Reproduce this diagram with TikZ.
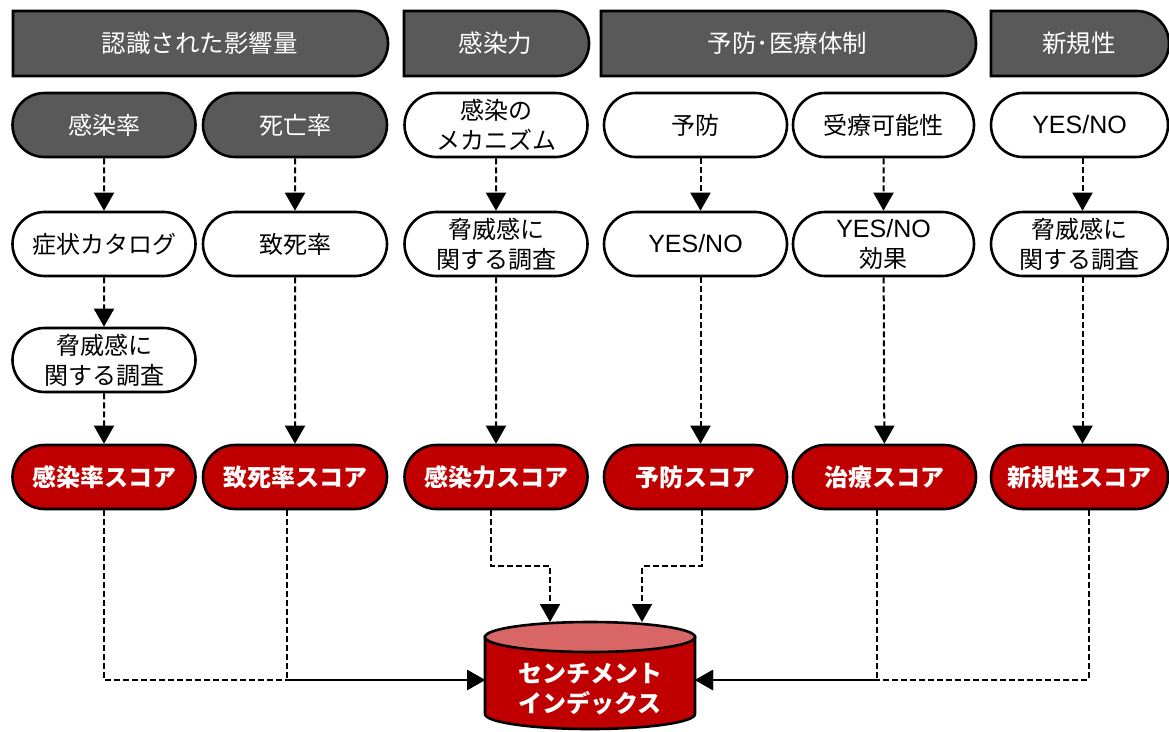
\documentclass[tikz,border=0pt]{standalone}
\usepackage{fontspec}
\setmainfont{Noto Sans CJK JP}
\newfontfamily\latinfont{Liberation Sans}
\usetikzlibrary{shapes.misc,arrows.meta}

\definecolor{hdr}{HTML}{595959}
\definecolor{scr}{HTML}{C00000}
\definecolor{cyltop}{HTML}{D96666}

\tikzset{
  base/.style={rounded rectangle, draw=black, line width=2.6pt, minimum height=64pt,
    inner sep=0pt, align=center, font=\fontsize{24}{30}\selectfont},
  hdrbox/.style={base, rounded rectangle left arc=none, fill=hdr, text=white,
    minimum height=65pt, font=\fontsize{24.5}{30}\selectfont},
  darkpill/.style={base, fill=hdr, text=white},
  whitepill/.style={base, fill=white},
  scorepill/.style={base, fill=scr, text=white, font=\fontsize{24}{30}\selectfont\bfseries},
  conn/.style={line width=2pt, dash pattern=on 6pt off 3pt, -{Triangle[length=18pt,width=20pt]}}
}
\newcommand{\yn}{{\latinfont\fontsize{25}{30}\selectfont YES/NO}}

\begin{document}
\begin{tikzpicture}[x=1pt,y=-1pt]
\useasboundingbox (0,0) rectangle (1169,731);

% headers
\node[hdrbox, minimum width=375pt] (h1) at (199.5,43.5) {認識された影響量};
\node[hdrbox, minimum width=185pt] (h2) at (495.5,43.5) {感染力};
\node[hdrbox, minimum width=375pt] (h3) at (787.5,43.5) {予防･医療体制};
\node[hdrbox, minimum width=178pt] (h4) at (1079,43.5) {新規性};

% row 2
\node[darkpill, minimum width=183pt] (a1) at (104,125) {感染率};
\node[darkpill, minimum width=184pt] (a2) at (295,125) {死亡率};
\node[whitepill, minimum width=183pt] (a3) at (496,125) {感染の\\メカニズム};
\node[whitepill, minimum width=183pt] (a4) at (695.5,125) {予防};
\node[whitepill, minimum width=181pt] (a5) at (883.5,125) {受療可能性};
\node[whitepill, minimum width=177pt] (a6) at (1079.5,125) {\yn};

% row 3
\node[whitepill, minimum width=183pt] (b1) at (104,244) {症状カタログ};
\node[whitepill, minimum width=184pt] (b2) at (295,244) {致死率};
\node[whitepill, minimum width=183pt] (b3) at (496,244) {脅威感に\\関する調査};
\node[whitepill, minimum width=183pt] (b4) at (695.5,244) {\yn};
\node[whitepill, minimum width=181pt] (b5) at (883.5,244) {\yn\\効果};
\node[whitepill, minimum width=177pt] (b6) at (1079.5,244) {脅威感に\\関する調査};

% row 4
\node[whitepill, minimum width=183pt] (c1) at (104,360) {脅威感に\\関する調査};

% scores
\node[scorepill, minimum width=183pt] (s1) at (104,477) {感染率スコア};
\node[scorepill, minimum width=184pt] (s2) at (295,477) {致死率スコア};
\node[scorepill, minimum width=183pt] (s3) at (496,477) {感染力スコア};
\node[scorepill, minimum width=183pt] (s4) at (695.5,477) {予防スコア};
\node[scorepill, minimum width=183pt] (s5) at (884.5,477) {治療スコア};
\node[scorepill, minimum width=177pt] (s6) at (1079.5,477) {新規性スコア};

% cylinder
\filldraw[fill=scr, line width=2.6pt] (485,637) -- (485,714)
  arc[start angle=180, end angle=360, x radius=105pt, y radius=15pt] -- (695,637) -- cycle;
\filldraw[fill=cyltop, line width=2.6pt] (590,637) ellipse[x radius=105pt, y radius=15pt];
\node[minimum width=210pt, minimum height=60pt, inner sep=0pt, align=center, text=white,
  font=\fontsize{24}{30}\selectfont\bfseries] (cyl) at (590,689) {センチメント\\インデックス};

\coordinate (cL) at (485,680);
\coordinate (cR) at (695,680);
\coordinate (cT1) at (550,622);
\coordinate (cT2) at (642,622);

% vertical connectors
\draw[conn] (a1) -- (b1);
\draw[conn] (b1) -- (c1);
\draw[conn] (c1) -- (s1);
\draw[conn] (a2) -- (b2);
\draw[conn] (b2) -- (s2);
\draw[conn] (a3) -- (b3);
\draw[conn] (b3) -- (s3);
\draw[conn] ([xshift=5pt]a4.south) -- ([xshift=5pt]b4.north);
\draw[conn] ([xshift=5pt]b4.south) -- ([xshift=5pt]s4.north);
\draw[conn] (a5) -- (b5);
\draw[conn] (b5) -- (s5);
\draw[conn] ([xshift=3pt]a6.south) -- ([xshift=3pt]b6.north);
\draw[conn] ([xshift=3pt]b6.south) -- ([xshift=3pt]s6.north);

% to the index
\draw[conn] (s1.south) |- (cL);
\draw[conn] ([xshift=-8pt]s2.south) |- (cL);
\draw[conn] ([xshift=-5pt]s3.south) -- ++(0,56) -| (cT1);
\draw[conn] ([xshift=6pt]s4.south) -- ++(0,56) -| (cT2);
\draw[conn] ([xshift=-8pt]s5.south) |- (cR);
\draw[conn] ([xshift=9pt]s6.south) |- (cR);
\end{tikzpicture}
\end{document}
